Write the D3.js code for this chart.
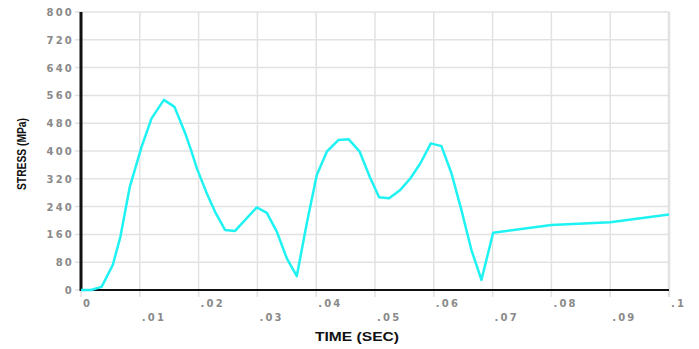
<!DOCTYPE html>
<html>
<head>
<meta charset="utf-8">
<script src="https://cdn.jsdelivr.net/npm/d3@7"></script>
<style>
  body { margin: 0; background: #fff; }
  .tick-label { font-family: "DejaVu Sans", sans-serif; font-size: 10px; font-weight: bold; fill: #8a8a8a; letter-spacing: 2.2px; }
  .axis-title { font-family: "Liberation Sans", Arial, sans-serif; font-weight: bold; font-size: 12px; fill: #111; }
</style>
</head>
<body>
<div id="chart"></div>
<script>
// time (sec) and stress (MPa)
const time = [0, .0017, .0035, .0054, .0067, .0083, .0103, .012, .0141, .0159, .0177, .0188, .0197,
  .0214, .0228, .0245, .0262, .0299, .0316, .0333, .035, .0367, .0384, .0401, .0418, .0438, .0455,
  .0474, .0491, .0507, .0524, .0543, .056, .0577, .0595, .0613, .063, .0647, .0664, .0681, .0701,
  .080, .090, .100];
const stress = [0, 0, 9, 72, 153, 297, 412, 494, 547, 527, 452, 398, 350,
  278, 225, 173, 170, 238, 222, 168, 91, 40, 192, 331, 398, 432, 434,
  398, 326, 267, 264, 288, 321, 364, 422, 414, 336, 230, 115, 29, 165,
  187, 195, 217];
const xTicks = [0, .01, .02, .03, .04, .05, .06, .07, .08, .09, .1];
const xTickLabels = ["0", ".01", ".02", ".03", ".04", ".05", ".06", ".07", ".08", ".09", ".1"];
const yTicks = [0, 80, 160, 240, 320, 400, 480, 560, 640, 720, 800];

const W = 699, H = 349;
const margin = {top: 12, right: 30, bottom: 59, left: 81};
const width = W - margin.left - margin.right, height = H - margin.top - margin.bottom;

const svg = d3.select("#chart").append("svg")
    .attr("width", W).attr("height", H)
    .append("g")
    .attr("transform", `translate(${margin.left}, ${margin.top})`);

const x = d3.scaleLinear().domain([0, 0.1]).range([0, 588]);
const y = d3.scaleLinear().domain([0, 800]).range([height, 0]);

// grid
svg.append("g").selectAll("line").data(yTicks).enter().append("line")
    .attr("x1", -6).attr("x2", x(0.1))
    .attr("y1", d => y(d)).attr("y2", d => y(d))
    .attr("stroke", "#e2e2e2").attr("stroke-width", 1.5);
svg.append("g").selectAll("line").data(xTicks).enter().append("line")
    .attr("x1", d => x(d)).attr("x2", d => x(d))
    .attr("y1", 0).attr("y2", height + 7)
    .attr("stroke", "#e2e2e2").attr("stroke-width", d => d === 0.1 ? 2.5 : 1.5);

// tick labels
svg.append("g").selectAll("text").data(yTicks).enter().append("text")
    .attr("class", "tick-label")
    .attr("x", -7).attr("y", d => y(d) + 4)
    .attr("text-anchor", "end")
    .text(d => d);
svg.append("g").selectAll("text").data(xTicks).enter().append("text")
    .attr("class", "tick-label")
    .attr("x", d => x(d) + 2)
    .attr("y", (d, i) => height + (i % 2 === 0 ? 17 : 31))
    .text((d, i) => xTickLabels[i]);

// axes lines
svg.append("line").attr("x1", 0).attr("x2", x(0.1)).attr("y1", height).attr("y2", height)
    .attr("stroke", "#111").attr("stroke-width", 2);
svg.append("line").attr("x1", 0).attr("x2", 0).attr("y1", 0).attr("y2", height + 1)
    .attr("stroke", "#111").attr("stroke-width", 3);

// data line
const line = d3.line().x((d, i) => x(time[i])).y(d => y(d));
svg.append("path").datum(stress)
    .attr("d", line)
    .attr("fill", "none")
    .attr("stroke", "#1ff2f2")
    .attr("stroke-width", 2.5)
    .attr("stroke-linejoin", "round");

// axis titles
svg.append("text").attr("class", "axis-title")
    .attr("x", 276).attr("y", height + 51)
    .attr("text-anchor", "middle")
    .attr("textLength", 84).attr("lengthAdjust", "spacingAndGlyphs")
    .text("TIME (SEC)");
svg.append("text").attr("class", "axis-title")
    .attr("transform", `translate(${22 - margin.left + 4}, ${154 - margin.top}) rotate(-90)`)
    .attr("text-anchor", "middle")
    .attr("textLength", 72).attr("lengthAdjust", "spacingAndGlyphs")
    .text("STRESS (MPa)");
</script>
</body>
</html>
